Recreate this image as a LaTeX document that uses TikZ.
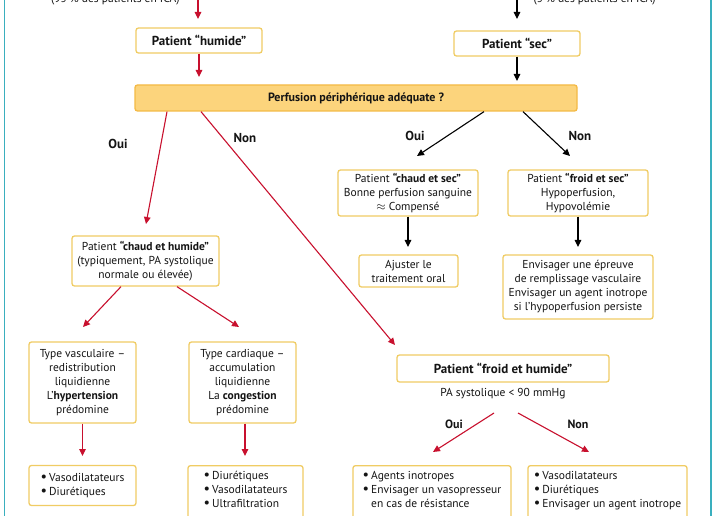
\documentclass[tikz,border=0pt]{standalone}
\usepackage{fontspec}
\setmainfont{PT Sans}
\usetikzlibrary{arrows.meta}
\definecolor{redc}{RGB}{200,16,46}
\definecolor{boxc}{RGB}{240,204,100}
\definecolor{perfc}{RGB}{252,212,124}
\definecolor{perfb}{RGB}{244,186,70}
\definecolor{tealc}{RGB}{58,175,190}
\definecolor{txtc}{RGB}{20,20,20}
\newcommand{\bul}{\makebox[8.5pt][l]{\raisebox{0.3pt}{\scalebox{1.25}{\textbullet}}}}
\newcommand{\hng}{\hspace*{8.5pt}}
\tikzset{
  base/.style={font=\fontsize{11.5}{14}\selectfont, text=txtc},
  box/.style={base, draw=boxc, line width=1.3pt, rounded corners=2.5pt, fill=white, align=center, inner sep=3pt},
  listbox/.style={box, align=left, anchor=north, inner ysep=6pt},
  title/.style={font=\fontsize{13}{15}\selectfont\bfseries, text=txtc},
  lbl/.style={font=\fontsize{13}{15}\selectfont\bfseries, text=txtc},
  redarr/.style={draw=redc, line width=1.1pt, -{Triangle[length=7pt,width=6.5pt]}},
  blkarr/.style={draw=black, line width=1.1pt, -{Triangle[length=7pt,width=6.5pt]}},
}
\begin{document}
\begin{tikzpicture}[x=1pt,y=-1pt]
\useasboundingbox (0,0) rectangle (716,516);
\clip (0,0) rectangle (716,516);
\fill[white] (0,0) rectangle (716,516);
\draw[tealc, line width=1.2pt] (4.5,0) -- (4.5,516);
\draw[tealc, line width=1.2pt] (711,0) -- (711,516);

% cut-off top texts (cut in the reference too)
\node[base, anchor=base east] (topLt) at (183,2.5) {(95 \% des patients en ICA)};
\node[base, anchor=base west] (topRt) at (530,2.5) {(5 \% des patients en ICA)};

% nodes
\node[box, title, minimum width=126pt, minimum height=25pt] (humide) at (199,40.5) {Patient “humide”};
\node[box, title, minimum width=126pt, minimum height=25pt] (sec) at (517,43.5) {Patient “sec”};
\node[box, draw=perfb, fill=perfc, font=\fontsize{12}{14}\selectfont\bfseries, minimum width=442pt, minimum height=26pt] (perf) at (356,98) {Perfusion périphérique adéquate ?};

\node[box, minimum width=140pt, minimum height=46pt] (chs) at (408,193) {Patient \textbf{“chaud et sec”}\\Bonne perfusion sanguine\\$\approx$ Compensé};
\node[box, minimum width=99pt, minimum height=32pt] (ajust) at (408.5,271) {Ajuster le\\traitement oral};
\node[box, minimum width=140pt, minimum height=46pt] (fs) at (578,193) {Patient \textbf{“froid et sec”}\\Hypoperfusion,\\Hypovolémie};
\node[box, minimum width=150pt, minimum height=64pt] (env) at (578,287) {Envisager une épreuve\\de remplissage vasculaire\\Envisager un agent inotrope\\si l’hypoperfusion persiste};

\node[box, minimum width=147pt, minimum height=50pt] (chh) at (145.5,261) {Patient \textbf{“chaud et humide”}\\(typiquement, PA systolique\\normale ou élevée)};
\node[box, minimum width=107pt, minimum height=81pt] (tv) at (82.5,382.5) {Type vasculaire –\\redistribution\\liquidienne\\L’\textbf{hypertension}\\prédomine};
\node[box, minimum width=107pt, minimum height=81pt] (tc) at (242.5,382.5) {Type cardiaque –\\accumulation\\liquidienne\\La \textbf{congestion}\\prédomine};

\node[box, align=left, minimum width=107pt, minimum height=40pt] (b1) at (82.5,485.5) {\bul Vasodilatateurs\\\bul Diurétiques};
\node[listbox, minimum width=115pt] (b2) at (245.5,465) {\bul Diurétiques\\\bul Vasodilatateurs\\\bul Ultrafiltration\\~\\~};

\node[box, title, minimum width=212pt, minimum height=27pt] (fh) at (503,368.5) {Patient “froid et humide”};
\node[base] (pa) at (503,394) {PA systolique < 90 mmHg};
\node[listbox, minimum width=158pt] (b3) at (432,465) {\bul Agents inotropes\\\bul Envisager un vasopresseur\\\hng en cas de résistance\\~\\~};
\node[listbox, minimum width=159pt] (b4) at (607.5,465) {\bul Vasodilatateurs\\\bul Diurétiques\\\bul Envisager un agent inotrope\\~\\~};

% labels
\node[lbl] (l1) at (118,144) {Oui};
\node[lbl] (l2) at (245,138) {Non};
\node[lbl] (l3) at (415,136) {Oui};
\node[lbl] (l4) at (580,136) {Non};
\node[lbl, font=\fontsize{12}{14}\selectfont\bfseries] (l5) at (454,424) {Oui};
\node[lbl, font=\fontsize{12}{14}\selectfont\bfseries] (l6) at (578,424) {Non};

% coordinates (free ends)
\coordinate (topL) at (198,-12);
\coordinate (tipL) at (198,19);
\coordinate (topR) at (517,-12);
\coordinate (tipR) at (517,19);
\coordinate (t1) at (199,77);
\coordinate (t2) at (517,81);
\coordinate (t3) at (146,224);
\coordinate (t4) at (395,345);
\coordinate (t5) at (417,156);
\coordinate (t6) at (570,156);
\coordinate (t7) at (408,247);
\coordinate (t8) at (578,247);
\coordinate (t9) at (83,327);
\coordinate (t10) at (239,327);
\coordinate (t11) at (82.5,456);
\coordinate (t12) at (245,456);
\coordinate (s13) at (494,413);
\coordinate (t13) at (433,452);
\coordinate (s14) at (518,413);
\coordinate (t14) at (589,452);

% connectors
\draw[redarr] (topL) -- (tipL);
\draw[blkarr] (topR) -- (tipR);
\draw[redarr] (humide.south) -- (t1);
\draw[blkarr] (sec.south) -- (t2);
\draw[redarr] ([xshift=-189pt]perf.south) -- (t3);
\draw[redarr] ([xshift=-155pt]perf.south) -- (t4);
\draw[blkarr] ([xshift=128pt]perf.south) -- (t5);
\draw[blkarr] ([xshift=167pt]perf.south) -- (t6);
\draw[blkarr] (chs.south) -- (t7);
\draw[blkarr] (fs.south) -- (t8);
\draw[redarr] ([xshift=-24.5pt]chh.south) -- (t9);
\draw[redarr] ([xshift=31.5pt]chh.south) -- (t10);
\draw[redarr] (tv.south) -- (t11);
\draw[redarr] ([xshift=2.5pt]tc.south) -- (t12);
\draw[redarr] (s13) -- (t13);
\draw[redarr] (s14) -- (t14);
\end{tikzpicture}
\end{document}
